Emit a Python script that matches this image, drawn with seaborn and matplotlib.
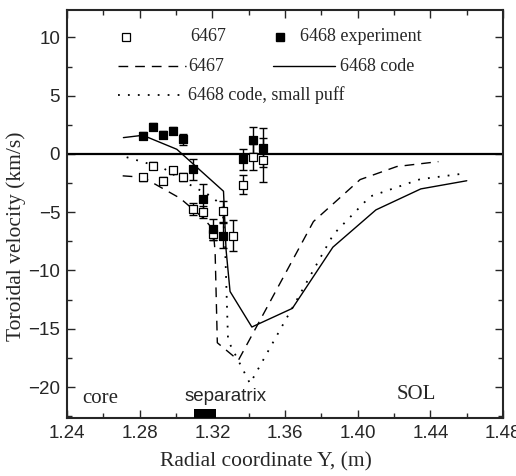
import numpy as np
import pandas as pd
import matplotlib
matplotlib.use("Agg")
import matplotlib.pyplot as plt
from matplotlib.ticker import MultipleLocator, FormatStrFormatter
from matplotlib.lines import Line2D
import seaborn as sns

# ---------------- data ----------------
x_6467_exp = [1.2817, 1.2872, 1.2927, 1.2982, 1.3037, 1.3092, 1.3147, 1.3202,
              1.3257, 1.3312, 1.3367, 1.3422, 1.3477]
y_6467_exp = [-2.0, -1.0, -2.3, -1.4, -2.0, -4.7, -5.0, -6.9,
              -4.9, -7.0, -2.65, -0.25, -0.55]
e_6467_exp = [0.3, 0.3, 0.3, 0.3, 0.35, 0.5, 0.5, 0.5,
              0.9, 1.3, 0.8, 1.1, 1.9]

x_6468_exp = [1.2817, 1.2872, 1.2927, 1.2982, 1.3037, 1.3092, 1.3147, 1.3202,
              1.3257, 1.3367, 1.3422, 1.3477]
y_6468_exp = [1.55, 2.35, 1.65, 2.0, 1.25, -1.3, -3.85, -6.45,
              -7.0, -0.45, 1.2, 0.55]
e_6468_exp = [0.3, 0.3, 0.3, 0.3, 0.45, 0.9, 1.25, 0.9,
              1.1, 0.9, 1.1, 1.7]

x_6467_code = [1.2706, 1.2817, 1.3022, 1.3150, 1.3205, 1.3215, 1.3227, 1.3343,
               1.3756, 1.4013, 1.4215, 1.4444]
y_6467_code = [-1.88, -2.0, -3.8, -5.5, -6.5, -8.5, -16.2, -17.7,
               -5.8, -2.2, -1.08, -0.66]

x_6468_code = [1.2710, 1.2817, 1.3004, 1.3261, 1.3275, 1.3297, 1.3417, 1.3640,
               1.3863, 1.4100, 1.4347, 1.4600]
y_6468_code = [1.4, 1.6, 0.4, -3.2, -8.2, -11.8, -14.85, -13.25,
               -8.0, -4.8, -3.0, -2.3]

x_6468_puff = [1.2728, 1.2928, 1.3059, 1.3196, 1.3255, 1.3270, 1.3286, 1.3407,
               1.3866, 1.4068, 1.4343, 1.4600]
y_6468_puff = [-0.28, -1.2, -2.5, -3.65, -4.5, -8.0, -16.0, -19.7,
               -6.9, -3.65, -2.17, -1.65]

separatrix_range = (1.310, 1.322)

legend_labels = ["6467", "6468 experiment", "6467", "6468 code", "6468 code, small puff"]
region_labels = ["core", "separatrix", "SOL"]

# ---------------- style ----------------
sns.set_style("ticks")
plt.rcParams['font.family'] = ['Liberation Serif', 'DejaVu Serif']

fig = plt.figure(figsize=(5.16, 4.76), dpi=100)
ax = fig.add_axes([0.130, 0.122, 0.845, 0.857])

SERIF = ['Liberation Serif', 'DejaVu Serif']
SANS = ['Liberation Sans', 'DejaVu Sans']

lw = 1.0
df_a = pd.DataFrame({"x": x_6467_code, "y": y_6467_code})
df_b = pd.DataFrame({"x": x_6468_code, "y": y_6468_code})
df_c = pd.DataFrame({"x": x_6468_puff, "y": y_6468_puff})

sns.lineplot(data=df_a, x="x", y="y", sort=False, estimator=None, ax=ax,
             color="black", lw=lw, linestyle=(0, (7, 5)))
sns.lineplot(data=df_b, x="x", y="y", sort=False, estimator=None, ax=ax,
             color="black", lw=lw)
sns.lineplot(data=df_c, x="x", y="y", sort=False, estimator=None, ax=ax,
             color="black", lw=1.3, linestyle=(0, (1, 4.5)))

ax.axhline(0, color="black", lw=1.6, zorder=2)

# error bars
ax.errorbar(x_6467_exp, y_6467_exp, yerr=e_6467_exp, fmt='none', ecolor='black',
            elinewidth=1.0, capsize=3, capthick=1.0, zorder=3)
ax.errorbar(x_6468_exp, y_6468_exp, yerr=e_6468_exp, fmt='none', ecolor='black',
            elinewidth=1.0, capsize=3, capthick=1.0, zorder=3)

df_o = pd.DataFrame({"x": x_6467_exp, "y": y_6467_exp})
df_f = pd.DataFrame({"x": x_6468_exp, "y": y_6468_exp})
sns.scatterplot(data=df_o, x="x", y="y", ax=ax, marker="s", s=36,
                facecolor="white", edgecolor="black", linewidth=0.9, zorder=4)
sns.scatterplot(data=df_f, x="x", y="y", ax=ax, marker="s", s=36,
                color="black", edgecolor="black", linewidth=0.9, zorder=5)

# separatrix bar
ax.axvspan(separatrix_range[0], separatrix_range[1], ymin=0, ymax=0.022,
           color="black", lw=0, zorder=6)

# axes
ax.set_xlim(1.24, 1.48)
ax.set_ylim(-22.65, 12.35)
ax.xaxis.set_major_locator(MultipleLocator(0.04))
ax.xaxis.set_minor_locator(MultipleLocator(0.02))
ax.xaxis.set_major_formatter(FormatStrFormatter('%.2f'))
ax.yaxis.set_major_locator(MultipleLocator(5))
ax.yaxis.set_minor_locator(MultipleLocator(2.5))
ax.tick_params(which='both', direction='in', top=True, right=True, width=1.0)
ax.tick_params(which='major', length=6, pad=5)
ax.tick_params(which='minor', length=3.5)
for lab in ax.get_xticklabels() + ax.get_yticklabels():
    lab.set_family(SANS)
    lab.set_fontsize(13.5)
for sp in ax.spines.values():
    sp.set_linewidth(1.5)
    sp.set_visible(True)

ax.set_xlabel("Radial coordinate Y, (m)", fontsize=15.5, family=SERIF)
ax.set_ylabel("Toroidal velocity (km/s)", fontsize=15.5, family=SERIF)
ax.xaxis.set_label_coords(0.457, -0.083)
ax.yaxis.set_label_coords(-0.095, 0.445)

# region labels
ax.text(1.2585, -21.0, region_labels[0], family=SERIF, fontsize=15, ha='center', va='center')
ax.text(1.3270, -20.85, region_labels[1], family=SANS, fontsize=13.5, ha='center', va='center')
ax.text(1.4320, -20.6, region_labels[2], family=SERIF, fontsize=15, ha='center', va='center')

# manual legend (axes fraction)
T = ax.transAxes
r1, r2, r3 = 0.934, 0.862, 0.791
fs_leg = 13
ax.add_line(Line2D([0.135], [r1], transform=T, marker='s', ms=6, mfc='white',
                   mec='black', mew=0.9, ls='none'))
ax.text(0.282, r1, legend_labels[0], transform=T, family=SERIF, fontsize=fs_leg, va='center')
ax.add_line(Line2D([0.489], [r1], transform=T, marker='s', ms=6, mfc='black',
                   mec='black', ls='none'))
ax.text(0.534, r1, legend_labels[1], transform=T, family=SERIF, fontsize=fs_leg, va='center')
ax.add_line(Line2D([0.117, 0.272], [r2, r2], transform=T, color='black', lw=lw,
                   linestyle=(0, (7, 5))))
ax.text(0.278, r2, legend_labels[2], transform=T, family=SERIF, fontsize=fs_leg, va='center')
ax.add_line(Line2D([0.472, 0.615], [r2, r2], transform=T, color='black', lw=lw))
ax.text(0.626, r2, legend_labels[3], transform=T, family=SERIF, fontsize=fs_leg, va='center')
ax.add_line(Line2D([0.117, 0.258], [r3, r3], transform=T, color='black', lw=1.3,
                   linestyle=(0, (1, 4.5))))
ax.text(0.278, r3, legend_labels[4], transform=T, family=SERIF, fontsize=fs_leg, va='center')

fig.savefig("out.png", dpi=100)
